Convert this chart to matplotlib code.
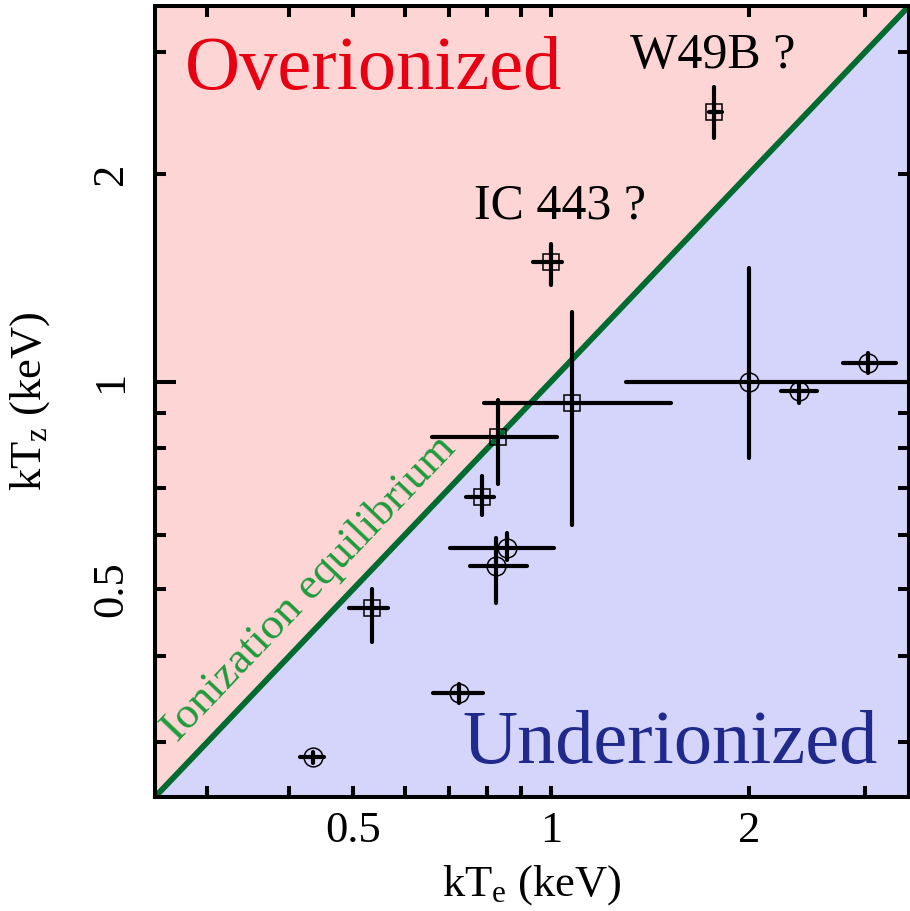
import numpy as np
import matplotlib
matplotlib.use("Agg")
import matplotlib.pyplot as plt
from matplotlib.ticker import FixedLocator, FixedFormatter, NullFormatter

plt.rcParams['font.family'] = ['Liberation Serif', 'DejaVu Serif']
plt.rcParams['mathtext.fontset'] = 'custom'
plt.rcParams['mathtext.rm'] = 'Liberation Serif'
plt.rcParams['mathtext.it'] = 'Liberation Serif'

# squares (NEI fits)
sq_x = np.array([1.77, 1.00, 0.83, 1.075, 0.785, 0.534])
sq_xlo = np.array([1.74, 0.94, 0.66, 0.79, 0.742, 0.493])
sq_xhi = np.array([1.82, 1.04, 1.02, 1.52, 0.818, 0.566])
sq_y = np.array([2.46, 1.49, 0.83, 0.93, 0.68, 0.47])
sq_ylo = np.array([2.25, 1.38, 0.71, 0.62, 0.64, 0.42])
sq_yhi = np.array([2.67, 1.58, 0.94, 1.26, 0.73, 0.50])

# circles
ci_x = np.array([0.858, 0.826, 0.724, 0.434, 2.0, 2.38, 3.03])
ci_xlo = np.array([0.702, 0.753, 0.662, 0.415, 1.30, 2.24, 2.78])
ci_xhi = np.array([1.01, 0.92, 0.787, 0.451, 4.0, 2.54, 3.34])
ci_y = np.array([0.573, 0.541, 0.354, 0.286, 1.0, 0.97, 1.065])
ci_ylo = np.array([0.552, 0.477, 0.342, 0.280, 0.776, 0.93, 1.03])
ci_yhi = np.array([0.603, 0.593, 0.365, 0.291, 1.46, 1.0, 1.10])

lims = [0.25, 3.5]
label_ticks = [0.5, 1, 2]
label_text = ['0.5', '1', '2']
minor_ticks = [0.3, 0.4, 0.6, 0.7, 0.8, 0.9, 3]
long_tick = 1

fig = plt.figure(figsize=(9.1, 9.11), dpi=100)
ax = fig.add_axes([0.1703, 0.1251, 0.8286, 0.8683])
ax.set_xscale('log')
ax.set_yscale('log')
ax.set_xlim(lims)
ax.set_ylim(lims)

# regions
ax.fill_between(lims, lims, [lims[1], lims[1]], color='#FDD5D5', lw=0, zorder=0)
ax.fill_between(lims, [lims[0], lims[0]], lims, color='#D5D5FC', lw=0, zorder=0)
ax.plot(lims, lims, color='#006B30', lw=4.2, zorder=2, solid_capstyle='butt')

for x, xlo, xhi, y, ylo, yhi, mk, ms in [
        (sq_x, sq_xlo, sq_xhi, sq_y, sq_ylo, sq_yhi, 's', 12),
        (ci_x, ci_xlo, ci_xhi, ci_y, ci_ylo, ci_yhi, 'o', 13.5)]:
    eb = ax.errorbar(x, y, xerr=[x - xlo, xhi - x], yerr=[y - ylo, yhi - y],
                     fmt='none', ecolor='k', elinewidth=3.0, capsize=0, zorder=3)
    for lc in eb[2]:
        lc.set_capstyle('round')
    ax.plot(x, y, mk, mfc='none', mec='k', mew=1.1, ms=ms, zorder=4)

ax.text(0.040, 0.895, 'Overionized', transform=ax.transAxes, color='#E60012',
        fontsize=55, ha='left', va='baseline')
ax.text(0.408, 0.043, 'Underionized', transform=ax.transAxes, color='#1F2A8C',
        fontsize=55, ha='left', va='baseline')
ax.text(1.32, 2.85, 'W49B ?', fontsize=36, ha='left', va='baseline')
ax.text(0.763, 1.72, 'IC 443 ?', fontsize=36, ha='left', va='baseline')

ang = np.degrees(np.arctan2(0.8683 * 9.11, 0.8286 * 9.1))
ax.annotate('Ionization equilibrium', xy=(0.285, 0.285), xytext=(-6, 6),
            textcoords='offset points', rotation=ang, rotation_mode='anchor',
            ha='left', va='bottom', color='#1E9B3C', fontsize=32.5)

for axis in (ax.xaxis, ax.yaxis):
    axis.set_major_locator(FixedLocator(label_ticks))
    axis.set_major_formatter(FixedFormatter(label_text))
    axis.set_minor_locator(FixedLocator(minor_ticks))
    axis.set_minor_formatter(NullFormatter())

ax.tick_params(which='both', direction='in', top=True, right=True,
               width=2.9, length=8, labelsize=32)
ax.tick_params(axis='x', pad=10)
ax.tick_params(axis='y', pad=17, labelrotation=90)
for lbl in ax.get_yticklabels():
    lbl.set_va('center')

for axis in (ax.xaxis, ax.yaxis):
    for t in axis.get_major_ticks():
        if t.get_loc() == long_tick:
            t.tick1line.set_markersize(15)
            t.tick2line.set_markersize(15)

for sp in ax.spines.values():
    sp.set_linewidth(2.9)
    sp.set_zorder(5)

ax.set_xlabel(r'kT$_{\rm e}$ (keV)', fontsize=32, labelpad=9)
ax.set_ylabel(r'kT$_{\rm z}$ (keV)', fontsize=32, labelpad=28)

fig.savefig('out.png', dpi=100)
